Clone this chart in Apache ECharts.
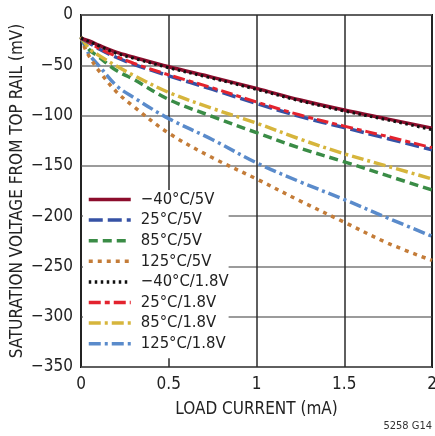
<!DOCTYPE html>
<html><head><meta charset="utf-8">
<script src="https://cdn.jsdelivr.net/npm/echarts@6/dist/echarts.min.js"></script>
<style>html,body{margin:0;padding:0;background:#fff}#c{width:435px;height:436px}</style>
</head><body><div id="c"></div>
<script>
const xValues = [0, 0.025, 0.05, 0.1, 0.2, 0.3, 0.5, 0.75, 1, 1.25, 1.5, 1.75, 2];
const m40_5V  = [-23, -24.5, -26, -30, -37, -42, -51.5, -62, -73, -84.5, -94.5, -103.5, -112.5];
const p25_5V  = [-23, -25.5, -28, -33.5, -42, -49, -60.5, -74, -88, -101, -112, -123, -134];
const p85_5V  = [-22, -29, -35, -41.5, -55, -64, -84, -101, -117, -132.5, -146, -160, -174];
const p125_5V = [-22, -34, -42, -55, -76, -91, -117.5, -142, -163, -185, -206, -227, -244];
const m40_18V = [-23, -25, -26.5, -30.5, -38, -43, -52.5, -63, -74, -85.5, -95.5, -104.5, -114];
const p25_18V = [-23, -25, -27.5, -33, -41, -48, -59.5, -72.5, -86.5, -99.5, -110.5, -121, -132];
const p85_18V = [-22, -28.5, -34, -40, -50.5, -60, -77, -93, -107.5, -123.5, -138, -150.5, -163];
const p125_18V= [-22, -32, -40, -50, -70, -82, -103, -124, -147, -166, -183.5, -202, -220];
const seriesNames = ['\u221240°C/5V','25°C/5V','85°C/5V','125°C/5V','\u221240°C/1.8V','25°C/1.8V','85°C/1.8V','125°C/1.8V'];
const xTicks = [0, 0.5, 1, 1.5, 2];
const yTicks = [0, -50, -100, -150, -200, -250, -300, -350];

const FONT = '"Liberation Sans Narrow","DejaVu Sans Condensed","Roboto",sans-serif';
const styles = [
  {color:'#8c0d2c', type:'solid', width:3.5},
  {color:'#3652a5', type:[14,5], width:3.5},
  {color:'#3a8c46', type:[9,5], width:3.5},
  {color:'#c47c38', type:[4,5], width:3.5},
  {color:'#111111', type:[2.5,3.5], width:3},
  {color:'#e3232e', type:[12,4,5,4], width:3},
  {color:'#d6b53c', type:[12,4,3,4], width:3.5},
  {color:'#5a8bcb', type:[12,4,3,4], width:3.5}
];
const dataSets = [m40_5V, p25_5V, p85_5V, p125_5V, m40_18V, p25_18V, p85_18V, p125_18V];
const drawOrder = [7,3,2,6,1,5,0,4];

const series = drawOrder.map(i => ({
  name: seriesNames[i], type:'line', smooth:0.35, showSymbol:false, symbol:'none',
  data: xValues.map((x,k)=>[x, dataSets[i][k]]),
  lineStyle: {color:styles[i].color, type:styles[i].type, width:styles[i].width, cap:'butt'},
  itemStyle: {color:styles[i].color},
  z: 3
}));

const chart = echarts.init(document.getElementById('c'), null, {renderer:'canvas'});
chart.setOption({
  animation:false,
  textStyle:{fontFamily:FONT},
  grid:{left:81, right:3, top:15, bottom:69, show:true, borderColor:'#111', borderWidth:2,
        backgroundColor:'transparent', containLabel:false, outerBoundsMode:'none'},
  legend:{
    orient:'vertical', left:83, top:190, data:seriesNames,
    itemWidth:42, itemHeight:14, itemGap:3.6,
    backgroundColor:'#fff', padding:[1,0,6,4],
    itemStyle:{opacity:0, borderWidth:0},
    lineStyle:{width:3.5},
    textStyle:{fontFamily:FONT, fontSize:16.5, color:'#222', padding:[0,0,0,5]},
    z:4
  },
  xAxis:{
    type:'value', min:xTicks[0], max:xTicks[xTicks.length-1], interval:0.5,
    name:'LOAD CURRENT (mA)', nameLocation:'middle', nameGap:34, nameMoveOverlap:false,
    nameTextStyle:{fontFamily:FONT, fontSize:17, color:'#222'},
    axisLine:{show:false}, axisTick:{show:false},
    axisLabel:{fontFamily:FONT, fontSize:17, color:'#222', margin:9,
      formatter:v=> (xTicks.indexOf(v)>=0 ? String(v) : '')},
    splitLine:{show:true, lineStyle:{color:'#2a2a2a', width:1.5}}
  },
  yAxis:{
    type:'value', min:yTicks[yTicks.length-1], max:yTicks[0], interval:50,
    name:'SATURATION VOLTAGE FROM TOP RAIL (mV)', nameLocation:'middle', nameGap:55, nameMoveOverlap:false,
    nameTextStyle:{fontFamily:FONT, fontSize:17, color:'#222'},
    axisLine:{show:false}, axisTick:{show:false},
    axisLabel:{fontFamily:FONT, fontSize:17, color:'#222', margin:8,
      formatter:v=> String(v).replace('-','\u2212')},
    splitLine:{show:true, lineStyle:{color:'#7a7a7a', width:1.5}}
  },
  graphic:[{type:'text', right:3, bottom:4, style:{text:'5258 G14', font:'11px '+FONT, fill:'#333'}}],
  series: series
});
</script></body></html>
